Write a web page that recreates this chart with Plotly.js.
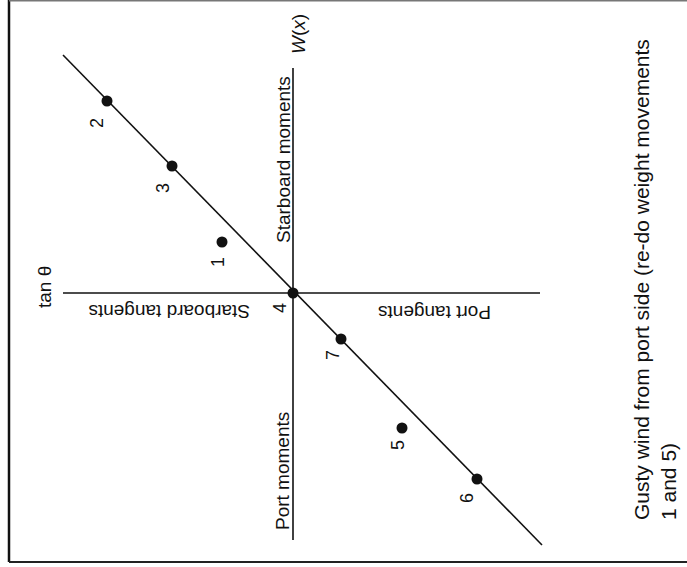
<!DOCTYPE html>
<html>
<head>
<meta charset="utf-8">
<script src="https://cdn.plot.ly/plotly-3.0.1.min.js"></script>
<style>html,body{margin:0;padding:0;background:#fff;}#chart{width:687px;height:567px;}</style>
</head>
<body>
<div id="chart"></div>
<script>
// Point numbers (weight movements)
const pointLabels = ["1", "2", "3", "4", "5", "6", "7"];
// Tangent axis value (left = starboard tangents, right = port tangents)
const tangentValues = [-3.55, -9.3, -6.05, 0, 5.45, 9.2, 2.4];
// Moment axis value W(x) (up = starboard moments, down = port moments)
const momentValues = [2.55, 9.6, 6.35, 0, -6.75, -9.3, -2.3];
// Fitted straight line end points
const lineTangent = [-11.5, 12.45];
const lineMoment = [11.9, -12.6];
// Axis extents
const tanAxisExtent = [-11.5, 12.35];
const momentAxisExtent = [-12.35, 11.25];
// Offsets of the number labels from their points
const labelOffsetX = [-0.2, -0.5, -0.45, -0.65, -0.2, -0.5, -0.4];
const labelOffsetY = [-1.0, -1.1, -1.1, -0.75, -0.85, -0.95, -0.8];

const ink = "#111";
const fontFam = "Liberation Sans, Arial, Helvetica, sans-serif";

const traces = [
  {x: tanAxisExtent, y: [0, 0], mode: "lines", line: {color: ink, width: 1.6}, hoverinfo: "skip"},
  {x: [0, 0], y: momentAxisExtent, mode: "lines", line: {color: ink, width: 1.6}, hoverinfo: "skip"},
  {x: lineTangent, y: lineMoment, mode: "lines", line: {color: ink, width: 1.6}, hoverinfo: "skip"},
  {x: tangentValues, y: momentValues, mode: "markers", marker: {color: ink, size: 11}, text: pointLabels, hoverinfo: "text"}
];

const ann = [];
pointLabels.forEach((t, i) => {
  ann.push({x: tangentValues[i] + labelOffsetX[i], y: momentValues[i] + labelOffsetY[i], xref: "x", yref: "y",
    text: t, showarrow: false, textangle: -90, font: {size: 18, color: ink, family: fontFam}});
});
ann.push(
  {x: -0.5, y: 6.65, xref: "x", yref: "y", text: "Starboard moments", showarrow: false, textangle: -90, font: {size: 19, color: ink, family: fontFam}},
  {x: 0.25, y: 12.95, xref: "x", yref: "y", text: "<i>W</i>(<i>x</i>)", showarrow: false, textangle: -90, font: {size: 19, color: ink, family: fontFam}},
  {x: -12.45, y: 0.3, xref: "x", yref: "y", text: "tan θ", showarrow: false, textangle: -90, font: {size: 19, color: ink, family: fontFam}},
  {x: -6.2, y: -0.95, xref: "x", yref: "y", text: "Starboard tangents", showarrow: false, textangle: 180, font: {size: 19, color: ink, family: fontFam}},
  {x: 7.1, y: -1.0, xref: "x", yref: "y", text: "Port tangents", showarrow: false, textangle: 180, font: {size: 19, color: ink, family: fontFam}},
  {x: -0.55, y: -8.9, xref: "x", yref: "y", text: "Port moments", showarrow: false, textangle: -90, font: {size: 19, color: ink, family: fontFam}},
  {x: 682/687, y: 1 - 280/567, xref: "paper", yref: "paper", text: "Gusty wind from port side (re-do weight movements<br>1 and 5)",
    showarrow: false, textangle: -90, align: "left", font: {size: 21, color: ink, family: fontFam}}
);

const layout = {
  width: 687, height: 567,
  margin: {l: 0, r: 0, t: 0, b: 0},
  paper_bgcolor: "#fff", plot_bgcolor: "#fff",
  showlegend: false,
  xaxis: {range: [-14.65, 19.7], visible: false, fixedrange: true},
  yaxis: {range: [-13.7, 14.65], visible: false, fixedrange: true},
  annotations: ann,
  shapes: [
    {type: "line", xref: "paper", yref: "paper", x0: 9/687, x1: 9/687, y0: 1 - 562/567, y1: 1, line: {color: "#111", width: 2.5}},
    {type: "line", xref: "paper", yref: "paper", x0: 9/687, x1: 1, y0: 1 - 562/567, y1: 1 - 562/567, line: {color: "#222", width: 2}},
    {type: "line", xref: "paper", yref: "paper", x0: 9/687, x1: 1, y0: 1 - 0.8/567, y1: 1 - 0.8/567, line: {color: "#777", width: 1.5}}
  ]
};

Plotly.newPlot("chart", traces, layout, {displayModeBar: false, staticPlot: true});
</script>
</body>
</html>
